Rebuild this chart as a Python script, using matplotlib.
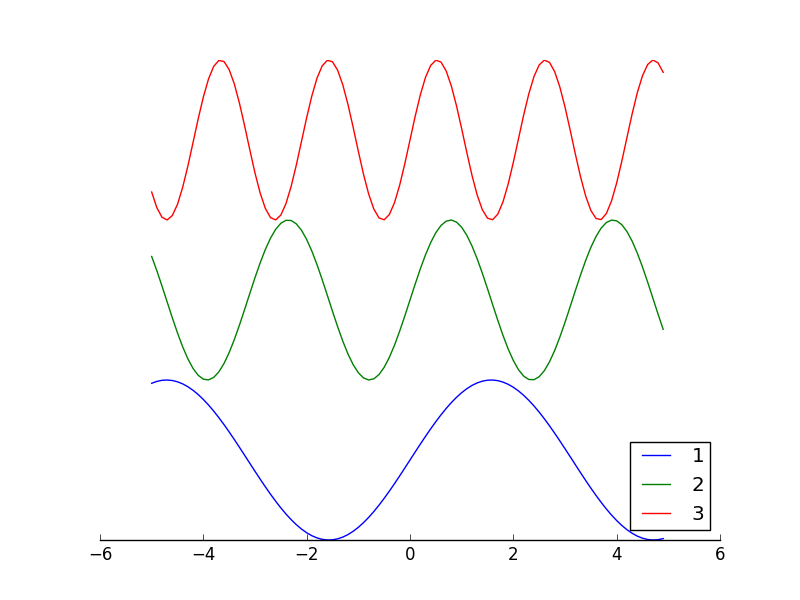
import matplotlib
matplotlib.use('Agg')
import matplotlib.pyplot as plt

# x grid, -5.0 .. 4.9 in steps of 0.1
x = [-5.0, -4.9, -4.8, -4.7, -4.6, -4.5, -4.4, -4.3, -4.2, -4.1,
     -4.0, -3.9, -3.8, -3.7, -3.6, -3.5, -3.4, -3.3, -3.2, -3.1,
     -3.0, -2.9, -2.8, -2.7, -2.6, -2.5, -2.4, -2.3, -2.2, -2.1,
     -2.0, -1.9, -1.8, -1.7, -1.6, -1.5, -1.4, -1.3, -1.2, -1.1,
     -1.0, -0.9, -0.8, -0.7, -0.6, -0.5, -0.4, -0.3, -0.2, -0.1,
     0.0, 0.1, 0.2, 0.3, 0.4, 0.5, 0.6, 0.7, 0.8, 0.9,
     1.0, 1.1, 1.2, 1.3, 1.4, 1.5, 1.6, 1.7, 1.8, 1.9,
     2.0, 2.1, 2.2, 2.3, 2.4, 2.5, 2.6, 2.7, 2.8, 2.9,
     3.0, 3.1, 3.2, 3.3, 3.4, 3.5, 3.6, 3.7, 3.8, 3.9,
     4.0, 4.1, 4.2, 4.3, 4.4, 4.5, 4.6, 4.7, 4.8, 4.9]

# series 1 (bottom curve)
y1 = [0.9589, 0.9825, 0.9962, 0.9999, 0.9937, 0.9775, 0.9516, 0.9162, 0.8716, 0.8183,
      0.7568, 0.6878, 0.6119, 0.5298, 0.4425, 0.3508, 0.2555, 0.1577, 0.0584, -0.0416,
      -0.1411, -0.2392, -0.3350, -0.4274, -0.5155, -0.5985, -0.6755, -0.7457, -0.8085, -0.8632,
      -0.9093, -0.9463, -0.9738, -0.9917, -0.9996, -0.9975, -0.9854, -0.9636, -0.9320, -0.8912,
      -0.8415, -0.7833, -0.7174, -0.6442, -0.5646, -0.4794, -0.3894, -0.2955, -0.1987, -0.0998,
      0.0, 0.0998, 0.1987, 0.2955, 0.3894, 0.4794, 0.5646, 0.6442, 0.7174, 0.7833,
      0.8415, 0.8912, 0.9320, 0.9636, 0.9854, 0.9975, 0.9996, 0.9917, 0.9738, 0.9463,
      0.9093, 0.8632, 0.8085, 0.7457, 0.6755, 0.5985, 0.5155, 0.4274, 0.3350, 0.2392,
      0.1411, 0.0416, -0.0584, -0.1577, -0.2555, -0.3508, -0.4425, -0.5298, -0.6119, -0.6878,
      -0.7568, -0.8183, -0.8716, -0.9162, -0.9516, -0.9775, -0.9937, -0.9999, -0.9962, -0.9825]

# series 2 (middle curve), before its offset
y2 = [0.5440, 0.3665, 0.1743, -0.0248, -0.2229, -0.4122, -0.5850, -0.7345, -0.8547, -0.9409,
      -0.9895, -0.9987, -0.9681, -0.8988, -0.7937, -0.6570, -0.4941, -0.3115, -0.1165, 0.0831,
      0.2794, 0.4646, 0.6313, 0.7728, 0.8836, 0.9589, 0.9962, 0.9937, 0.9516, 0.8716,
      0.7568, 0.6119, 0.4425, 0.2555, 0.0584, -0.1411, -0.3350, -0.5155, -0.6755, -0.8085,
      -0.9093, -0.9738, -0.9996, -0.9854, -0.9320, -0.8415, -0.7174, -0.5646, -0.3894, -0.1987,
      0.0, 0.1987, 0.3894, 0.5646, 0.7174, 0.8415, 0.9320, 0.9854, 0.9996, 0.9738,
      0.9093, 0.8085, 0.6755, 0.5155, 0.3350, 0.1411, -0.0584, -0.2555, -0.4425, -0.6119,
      -0.7568, -0.8716, -0.9516, -0.9937, -0.9962, -0.9589, -0.8836, -0.7728, -0.6313, -0.4646,
      -0.2794, -0.0831, 0.1165, 0.3115, 0.4941, 0.6570, 0.7937, 0.8988, 0.9681, 0.9987,
      0.9895, 0.9409, 0.8547, 0.7345, 0.5850, 0.4122, 0.2229, 0.0248, -0.1743, -0.3665]

# series 3 (top curve), before its offset
y3 = [-0.6503, -0.8457, -0.9657, -0.9993, -0.9437, -0.8038, -0.5920, -0.3276, -0.0336, 0.2633,
      0.5367, 0.7621, 0.9195, 0.9947, 0.9810, 0.8798, 0.7000, 0.4576, 0.1743, -0.1245,
      -0.4122, -0.6631, -0.8547, -0.9700, -0.9987, -0.9381, -0.7937, -0.5785, -0.3115, -0.0168,
      0.2794, 0.5507, 0.7728, 0.9259, 0.9962, 0.9775, 0.8716, 0.6878, 0.4425, 0.1577,
      -0.1411, -0.4274, -0.6755, -0.8632, -0.9738, -0.9975, -0.9320, -0.7833, -0.5646, -0.2955,
      0.0, 0.2955, 0.5646, 0.7833, 0.9320, 0.9975, 0.9738, 0.8632, 0.6755, 0.4274,
      0.1411, -0.1577, -0.4425, -0.6878, -0.8716, -0.9775, -0.9962, -0.9259, -0.7728, -0.5507,
      -0.2794, 0.0168, 0.3115, 0.5785, 0.7937, 0.9381, 0.9987, 0.9700, 0.8547, 0.6631,
      0.4122, 0.1245, -0.1743, -0.4576, -0.7000, -0.8798, -0.9810, -0.9947, -0.9195, -0.7621,
      -0.5367, -0.2633, 0.0336, 0.3276, 0.5920, 0.8038, 0.9437, 0.9993, 0.9657, 0.8457]

offsets = [0, 2, 4]
labels = ['1', '2', '3']
colors = ['b', 'g', 'r']

plt.style.use('classic')
fig = plt.figure(figsize=(8, 6))
ax = fig.add_subplot(111)

for ys, off, lab, c in zip([y1, y2, y3], offsets, labels, colors):
    ax.plot(x, [v + off for v in ys], color=c, label=lab)

ax.set_xlim(-6, 6)
ax.set_ylim(-1, 5)
ax.spines['top'].set_visible(False)
ax.spines['right'].set_visible(False)
ax.spines['left'].set_visible(False)
ax.xaxis.set_ticks_position('bottom')
ax.set_yticks([])

ax.legend(loc='lower right', borderpad=0.28)
fig.savefig('out.png', dpi=100)
